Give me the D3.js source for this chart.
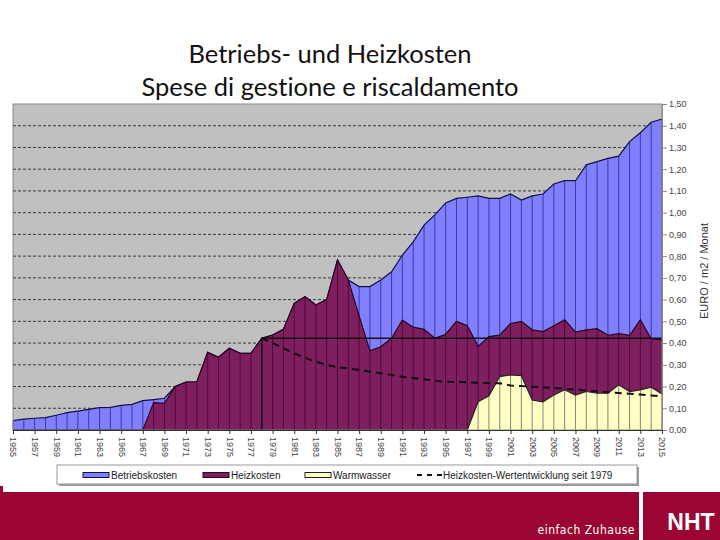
<!DOCTYPE html>
<html>
<head>
<meta charset="utf-8">
<script src="https://cdn.jsdelivr.net/npm/d3@7"></script>
<style>
  body { margin: 0; background: #fff; }
  svg { display: block; }
</style>
</head>
<body>
<div id="chart"></div>
<script>
// Years on the x axis (one data point per year)
const years = d3.range(1955, 2016);

// Top of the blue area (Betriebskosten, drawn behind the others)
const betriebskosten = [
  0.043, 0.050, 0.054, 0.057, 0.068, 0.080, 0.087, 0.095, 0.103, 0.104,
  0.113, 0.118, 0.135, 0.140, 0.146, 0.200, 0.220, 0.222, 0.357, 0.335,
  0.376, 0.353, 0.353, 0.422, 0.437, 0.463, 0.583, 0.613, 0.575, 0.600,
  0.782, 0.690, 0.660, 0.660, 0.690, 0.728, 0.805, 0.866, 0.943, 0.990,
  1.045, 1.066, 1.071, 1.077, 1.066, 1.066, 1.086, 1.058, 1.077, 1.086,
  1.132, 1.147, 1.147, 1.220, 1.235, 1.250, 1.260, 1.327, 1.368, 1.416,
  1.431
];

// Heizkosten (purple)
const heizkosten = [
  0, 0, 0, 0, 0, 0, 0, 0, 0, 0,
  0, 0, 0, 0.126, 0.123, 0.200, 0.220, 0.222, 0.357, 0.335,
  0.376, 0.353, 0.353, 0.422, 0.437, 0.463, 0.583, 0.613, 0.575, 0.600,
  0.782, 0.690, 0.525, 0.364, 0.383, 0.422, 0.506, 0.473, 0.463, 0.422,
  0.440, 0.500, 0.480, 0.385, 0.430, 0.437, 0.490, 0.500, 0.461, 0.453,
  0.480, 0.507, 0.450, 0.461, 0.466, 0.436, 0.443, 0.436, 0.507, 0.420,
  0.415
];

// Warmwasser (yellow)
const warmwasser = [
  0, 0, 0, 0, 0, 0, 0, 0, 0, 0,
  0, 0, 0, 0, 0, 0, 0, 0, 0, 0,
  0, 0, 0, 0, 0, 0, 0, 0, 0, 0,
  0, 0, 0, 0, 0, 0, 0, 0, 0, 0,
  0, 0, 0, 0.130, 0.157, 0.246, 0.254, 0.250, 0.138, 0.130,
  0.161, 0.185, 0.161, 0.177, 0.169, 0.169, 0.208, 0.177, 0.185, 0.197,
  0.166
];

// Heizkosten-Wertentwicklung seit 1979 (dashed line)
const wertYears = d3.range(1978, 2016);
const wertentwicklung = [
  0.422, 0.400, 0.376, 0.353, 0.333, 0.314, 0.300, 0.289, 0.283, 0.276,
  0.268, 0.261, 0.253, 0.245, 0.239, 0.233, 0.227, 0.222, 0.221, 0.219,
  0.217, 0.216, 0.215, 0.205, 0.202, 0.199, 0.196, 0.193, 0.190, 0.186,
  0.182, 0.178, 0.174, 0.170, 0.167, 0.163, 0.159, 0.155
];

// Heizkosten level in 1978, drawn as reference line
const levelYear = 1978;
const levelValue = 0.422;

const yTicks = [0, 0.1, 0.2, 0.3, 0.4, 0.5, 0.6, 0.7, 0.8, 0.9, 1.0, 1.1, 1.2, 1.3, 1.4, 1.5];
const xTickYears = d3.range(1955, 2016, 2);

const legendLabels = ['Betriebskosten', 'Heizkosten', 'Warmwasser', 'Heizkosten-Wertentwicklung seit 1979'];

const W = 720, H = 540;
const plot = { left: 13, right: 662, top: 104, bottom: 430 };

const svg = d3.select('#chart').append('svg')
  .attr('width', W)
  .attr('height', H);

// Title
const title = svg.append('text')
  .attr('x', 330)
  .attr('text-anchor', 'middle')
  .style('font-family', 'Lato, "Open Sans", sans-serif')
  .style('font-size', '25.5px')
  .style('font-variant-ligatures', 'none')
  .style('fill', '#111');
title.append('tspan').attr('x', 330).attr('y', 63).text('Betriebs- und Heizkosten');
title.append('tspan').attr('x', 330).attr('y', 96).text('Spese di gestione e riscaldamento');

const x = d3.scaleLinear().domain([1955, 2015]).range([plot.left, plot.right]);
const y = d3.scaleLinear().domain([0, 1.5]).range([plot.bottom, plot.top]);

// Plot background
svg.append('rect')
  .attr('x', plot.left)
  .attr('y', plot.top)
  .attr('width', plot.right - plot.left)
  .attr('height', plot.bottom - plot.top)
  .style('fill', '#c0c0c0');

// Dashed grid lines
svg.append('g')
  .selectAll('line')
  .data(yTicks.slice(1, -1))
  .enter().append('line')
  .attr('x1', plot.left)
  .attr('x2', plot.right)
  .attr('y1', d => y(d))
  .attr('y2', d => y(d))
  .style('stroke', '#3a3a3a')
  .style('stroke-width', 1)
  .style('stroke-dasharray', '3,2');

const series = [
  { values: betriebskosten, fill: '#8080ff', line: '#10104a', drop: '#2a2a80' },
  { values: heizkosten, fill: '#7f1f5f', line: '#2a0020', drop: '#3a0a2a' },
  { values: warmwasser, fill: '#ffffc4', line: '#222', drop: '#666' }
];

const area = d3.area()
  .x((d, i) => x(years[i]))
  .y0(y(0))
  .y1(d => y(d));

const topLine = d3.line()
  .x((d, i) => x(years[i]))
  .y(d => y(d));

series.forEach(s => {
  const g = svg.append('g');
  g.append('path')
    .datum(s.values)
    .attr('d', area)
    .style('fill', s.fill);

  // drop lines at every data point
  g.selectAll('line')
    .data(s.values.map((v, i) => ({ year: years[i], v })).filter(d => d.v > 0))
    .enter().append('line')
    .attr('x1', d => x(d.year))
    .attr('x2', d => x(d.year))
    .attr('y1', d => y(d.v))
    .attr('y2', y(0))
    .style('stroke', s.drop)
    .style('stroke-width', 0.8);

  g.append('path')
    .datum(s.values)
    .attr('d', topLine)
    .style('fill', 'none')
    .style('stroke', s.line)
    .style('stroke-width', 1.2);
});

// Reference level line (Heizkosten 1978)
svg.append('path')
  .attr('d', d3.line()([
    [x(levelYear), y(0)],
    [x(levelYear), y(levelValue)],
    [x(2015), y(levelValue)]
  ]))
  .style('fill', 'none')
  .style('stroke', '#111')
  .style('stroke-width', 1.5);

// Wertentwicklung dashed line
svg.append('path')
  .datum(wertentwicklung)
  .attr('d', d3.line()
    .x((d, i) => x(wertYears[i]))
    .y(d => y(d)))
  .style('fill', 'none')
  .style('stroke', '#111')
  .style('stroke-width', 2)
  .style('stroke-dasharray', '7,5');

// Plot border
svg.append('rect')
  .attr('x', plot.left)
  .attr('y', plot.top)
  .attr('width', plot.right - plot.left)
  .attr('height', plot.bottom - plot.top)
  .style('fill', 'none')
  .style('stroke', '#8a8a8a')
  .style('stroke-width', 1);

// Right value axis
const yAxis = svg.append('g')
  .attr('transform', `translate(${plot.right},0)`)
  .call(d3.axisRight(y)
    .tickValues(yTicks)
    .tickSize(5)
    .tickFormat(d => d.toFixed(2).replace('.', ',')));
yAxis.select('.domain').style('stroke', '#8a8a8a');
yAxis.selectAll('.tick line').style('stroke', '#8a8a8a');
yAxis.selectAll('text')
  .attr('x', 7)
  .style('font-family', '"Liberation Sans", Arial, sans-serif')
  .style('font-size', '9px')
  .style('fill', '#444');

svg.append('text')
  .attr('transform', `translate(708,${(plot.top + plot.bottom) / 2 + 4}) rotate(-90)`)
  .attr('text-anchor', 'middle')
  .style('font-family', '"Liberation Sans", Arial, sans-serif')
  .style('font-size', '11px')
  .style('fill', '#333')
  .text('EURO / m2 / Monat');

// Bottom year axis
const xAxis = svg.append('g')
  .attr('transform', `translate(0,${plot.bottom})`)
  .call(d3.axisBottom(x)
    .tickValues(xTickYears)
    .tickSize(4)
    .tickFormat(d3.format('d')));
xAxis.select('.domain').style('stroke', '#333');
xAxis.selectAll('.tick line').style('stroke', '#333');
xAxis.selectAll('text')
  .attr('transform', 'rotate(90)')
  .attr('x', 7)
  .attr('y', 0)
  .attr('dy', '0.35em')
  .attr('text-anchor', 'start')
  .style('font-family', '"Liberation Sans", Arial, sans-serif')
  .style('font-size', '9px')
  .style('fill', '#444');

// Legend
const legend = svg.append('g');
legend.append('rect')
  .attr('x', 59).attr('y', 467).attr('width', 580).attr('height', 19)
  .style('fill', '#999');
legend.append('rect')
  .attr('x', 57).attr('y', 465).attr('width', 580).attr('height', 19)
  .style('fill', '#fff')
  .style('stroke', '#999')
  .style('stroke-width', 1);

const legendFont = '"Liberation Sans", Arial, sans-serif';
const legendItems = [
  { label: legendLabels[0], x: 83, fill: '#8080ff', stroke: '#10104a' },
  { label: legendLabels[1], x: 203, fill: '#7f1f5f', stroke: '#2a0020' },
  { label: legendLabels[2], x: 305, fill: '#ffffc4', stroke: '#222' }
];
legendItems.forEach(it => {
  legend.append('rect')
    .attr('x', it.x).attr('y', 472.5).attr('width', 26).attr('height', 5)
    .style('fill', it.fill)
    .style('stroke', it.stroke)
    .style('stroke-width', 1);
  legend.append('text')
    .attr('x', it.x + 28).attr('y', 479)
    .style('font-family', legendFont)
    .style('font-size', '10px')
    .style('fill', '#222')
    .text(it.label);
});
legend.append('line')
  .attr('x1', 417).attr('x2', 442).attr('y1', 475).attr('y2', 475)
  .style('stroke', '#111')
  .style('stroke-width', 2)
  .style('stroke-dasharray', '5,5');
legend.append('text')
  .attr('x', 443).attr('y', 479)
  .style('font-family', legendFont)
  .style('font-size', '10px')
  .style('fill', '#222')
  .text(legendLabels[3]);

// Footer band
svg.append('rect').attr('x', 0).attr('y', 486).attr('width', 3).attr('height', 8).style('fill', '#9b0533');
svg.append('rect').attr('x', 0).attr('y', 492).attr('width', 639).attr('height', 48).style('fill', '#9b0533');
svg.append('rect').attr('x', 643).attr('y', 492).attr('width', 77).attr('height', 48).style('fill', '#9b0533');
svg.append('text')
  .attr('x', 635).attr('y', 534)
  .attr('text-anchor', 'end')
  .style('font-family', '"DejaVu Sans Condensed", "Liberation Sans", sans-serif')
  .style('font-size', '12px')
  .style('letter-spacing', '0.5px')
  .style('fill', '#fff')
  .text('einfach Zuhause');
svg.append('text')
  .attr('x', 691).attr('y', 530)
  .attr('text-anchor', 'middle')
  .style('font-family', '"Liberation Sans", Arial, sans-serif')
  .style('font-weight', 'bold')
  .style('font-size', '23px')
  .style('fill', '#fff')
  .text('NHT');
</script>
</body>
</html>
